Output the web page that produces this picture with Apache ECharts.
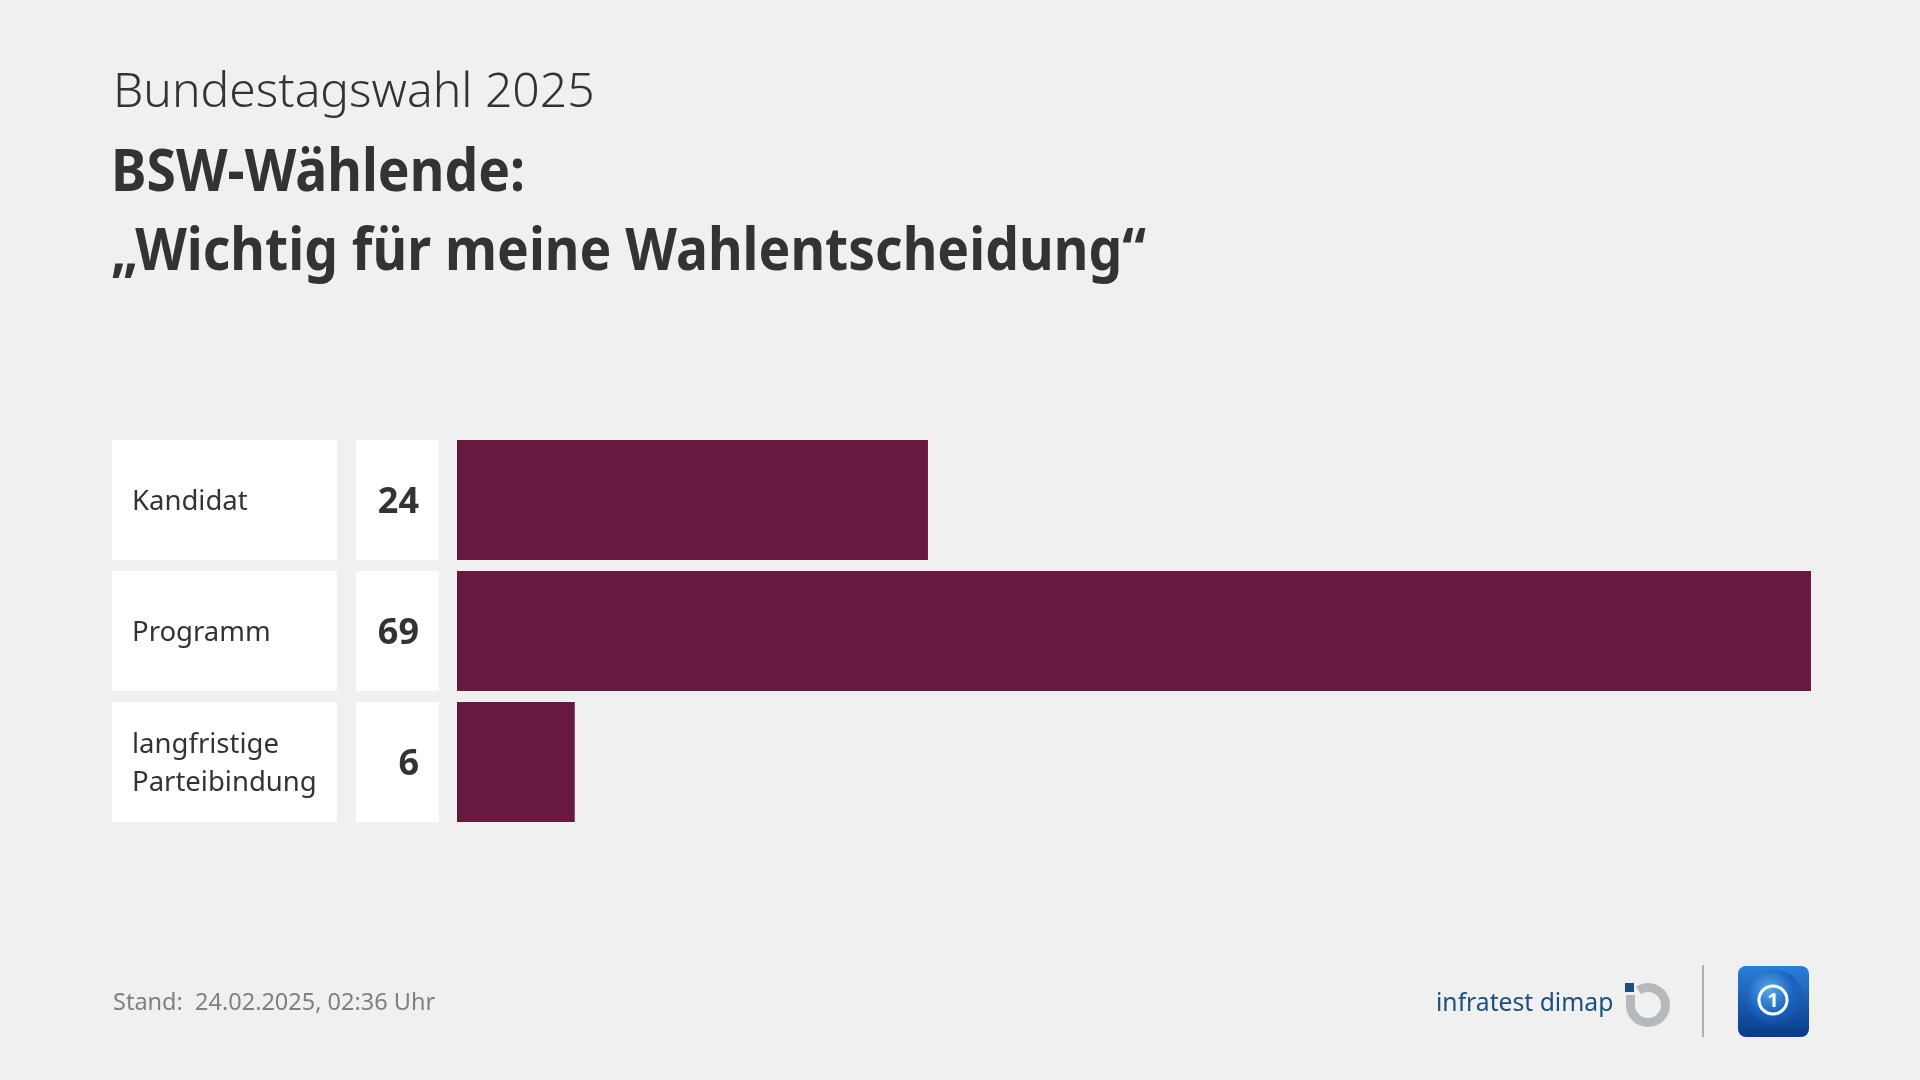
<!DOCTYPE html>
<html>
<head>
<meta charset="utf-8">
<script src="https://cdn.jsdelivr.net/npm/echarts@6/dist/echarts.min.js"></script>
<style>
html,body{margin:0;padding:0;background:#f0f0f0;}
#chart{width:1920px;height:1080px;}
</style>
</head>
<body>
<div id="chart"></div>
<script>
var categories = ['Kandidat', 'Programm', 'langfristige\nParteibindung'];
var values = [24, 69, 6];
var supTitle = 'Bundestagswahl 2025';
var mainTitle = 'BSW-Wählende:\n„Wichtig für meine Wahlentscheidung“';
var footerText = 'Stand:  24.02.2025, 02:36 Uhr';
var sourceText = 'infratest dimap';

var FONT = '"Noto Sans", "Open Sans", sans-serif';
var BAR_COLOR = '#68193f';
var chart = echarts.init(document.getElementById('chart'), null, {renderer: 'canvas'});

var option = {
  backgroundColor: '#f0f0f0',
  animation: false,
  grid: {left: 457, right: 109, top: 434.5, height: 393, containLabel: false},
  xAxis: {type: 'value', min: 0, max: 69, show: false, splitLine: {show: false}},
  yAxis: {
    type: 'category', data: categories, inverse: true,
    axisLine: {show: false}, axisTick: {show: false}, axisLabel: {show: false}, splitLine: {show: false}
  },
  series: [
    {
      type: 'bar', data: values, barWidth: 120, silent: true,
      itemStyle: {color: BAR_COLOR}
    },
    {
      type: 'custom', silent: true, clip: false,
      data: categories.map(function (c, i) { return [0, i]; }),
      encode: {x: 0, y: 1},
      renderItem: function (params, api) {
        var i = api.value(1);
        var p = api.coord([0, i]);
        var bh = 120;
        return {
          type: 'group',
          children: [
            {type: 'rect', shape: {x: p[0] - 345, y: p[1] - bh / 2, width: 225, height: bh}, style: {fill: '#ffffff'}},
            {type: 'rect', shape: {x: p[0] - 101, y: p[1] - bh / 2, width: 83, height: bh}, style: {fill: '#ffffff'}},
            {type: 'text', style: {
              text: categories[i], x: p[0] - 325, y: p[1] + 2,
              align: 'left', verticalAlign: 'middle', lineHeight: 38,
              fontSize: 27.5, fontFamily: FONT, fill: '#333333'
            }},
            {type: 'text', style: {
              text: String(values[i]), x: p[0] - 38, y: p[1] + 3,
              align: 'right', verticalAlign: 'middle',
              fontSize: 36, fontWeight: 'bold', fontFamily: FONT, fill: '#333333'
            }}
          ]
        };
      }
    }
  ],
  graphic: [
    {type: 'text', left: 113, top: 69, style: {text: supTitle, fontSize: 48, fontWeight: 300, fontFamily: FONT, fill: '#333333'}},
    {type: 'text', x: 111, y: 134, scaleX: 0.89, style: {text: mainTitle, fontSize: 60, fontWeight: 'bold', lineHeight: 79, fontFamily: FONT, fill: '#333333'}},
    {type: 'text', left: 113, top: 991, style: {text: footerText, fontSize: 23.5, fontFamily: FONT, fill: '#808080'}},
    {type: 'text', left: 1436, top: 991, style: {text: sourceText, fontSize: 24.7, fontFamily: FONT, fill: '#1d4f7c'}},
    {type: 'rect', shape: {x: 1625, y: 983, width: 9, height: 9}, style: {fill: '#1d4f7c'}},
    {type: 'rect', shape: {x: 1626, y: 995, width: 9, height: 12}, style: {fill: '#b5b9bd'}},
    {type: 'sector', shape: {cx: 1648, cy: 1005, r0: 13, r: 22, startAngle: -2.15, endAngle: Math.PI, clockwise: true}, style: {fill: '#b5b9bd'}},
    {type: 'line', shape: {x1: 1703, y1: 965, x2: 1703, y2: 1037}, style: {stroke: '#b0b0b0', lineWidth: 2}},
    {type: 'rect', shape: {x: 1738, y: 966, width: 71, height: 71, r: 8},
      style: {fill: new echarts.graphic.LinearGradient(0, 0, 0, 1, [{offset: 0, color: '#2a7fd8'}, {offset: 1, color: '#0b3a8a'}])}},
    {type: 'circle', shape: {cx: 1775, cy: 998, r: 28},
      style: {fill: new echarts.graphic.RadialGradient(0.4, 0.35, 0.7, [{offset: 0, color: '#5aa8e8'}, {offset: 0.6, color: '#1a64c0'}, {offset: 1, color: 'rgba(20,80,170,0.2)'}])}},
    {type: 'circle', shape: {cx: 1773, cy: 1000, r: 14}, style: {fill: 'rgba(0,0,0,0)', stroke: '#ffffff', lineWidth: 3}},
    {type: 'text', x: 1773, y: 1001, style: {text: '1', align: 'center', verticalAlign: 'middle', fontSize: 20, fontWeight: 'bold', fontFamily: FONT, fill: '#ffffff'}}
  ]
};
chart.setOption(option);
</script>
</body>
</html>
